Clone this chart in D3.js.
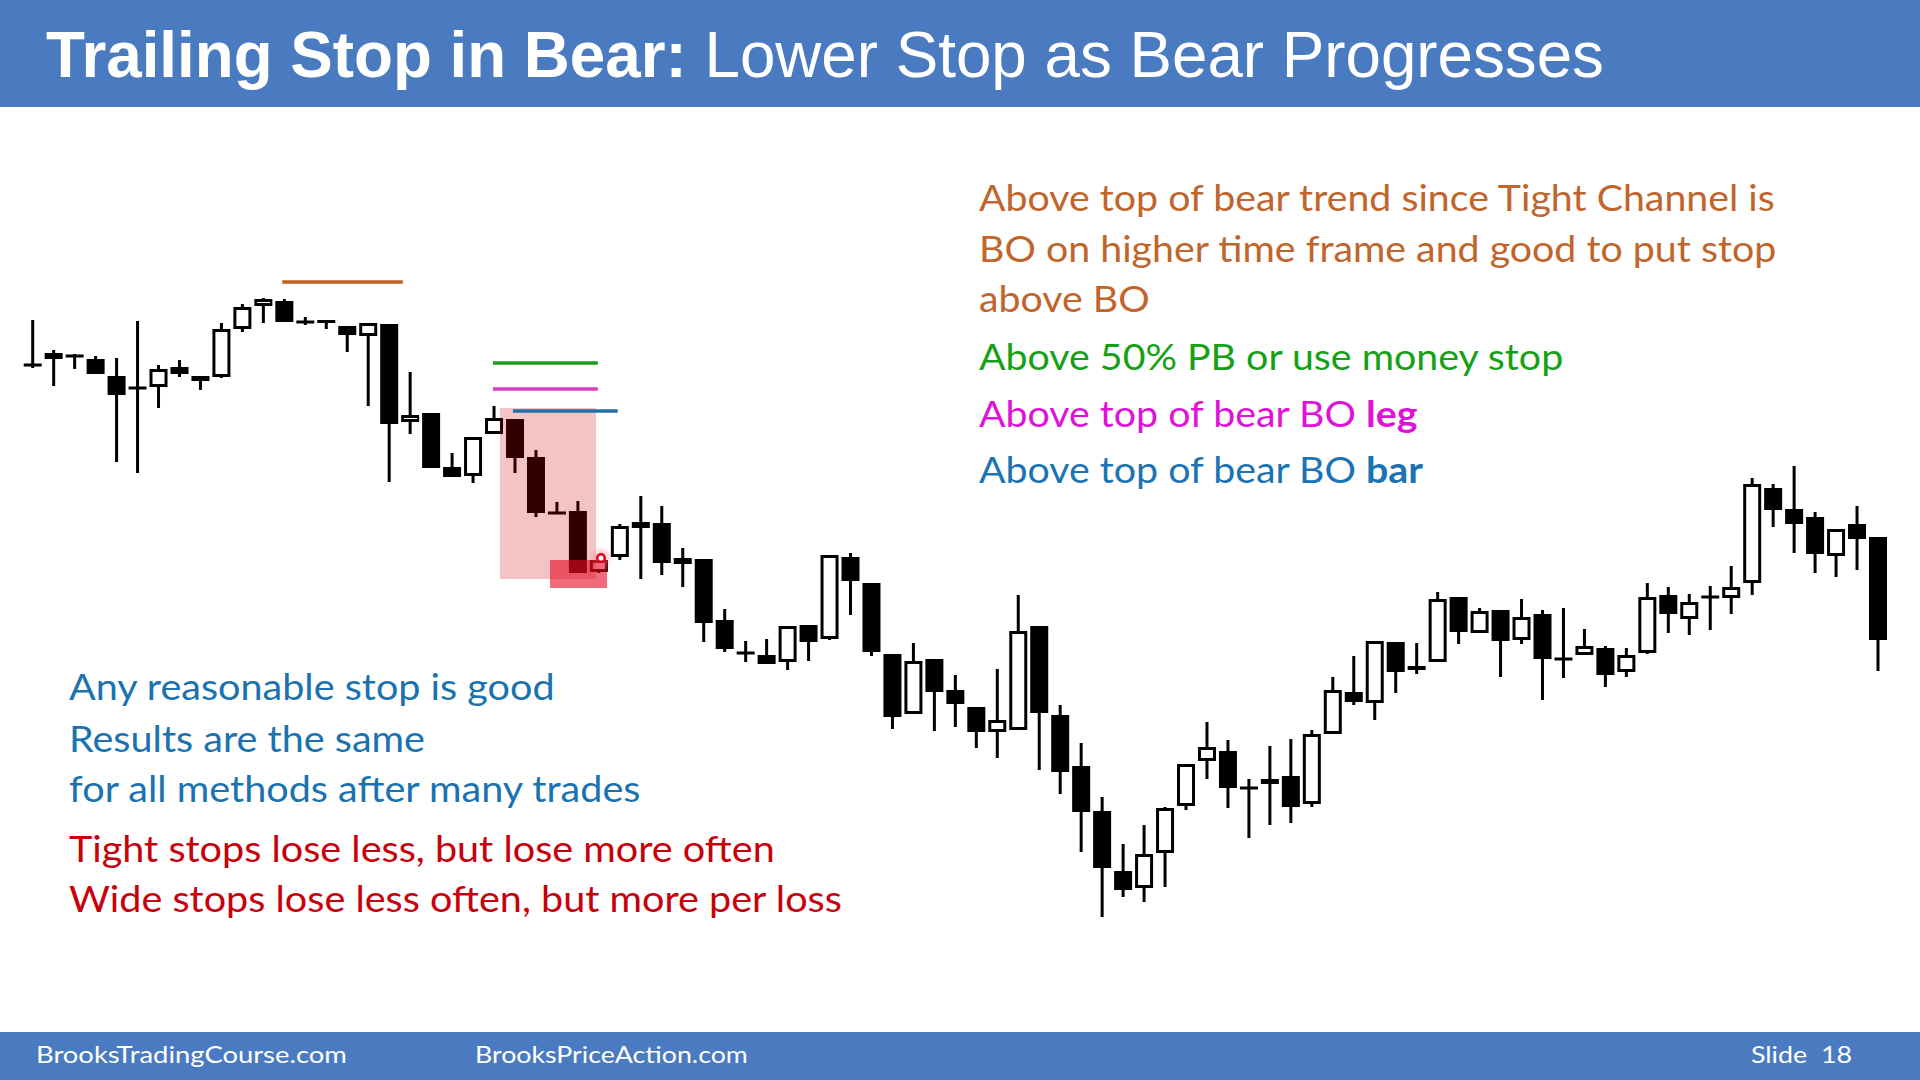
<!DOCTYPE html>
<html><head><meta charset="utf-8">
<script src="https://cdn.jsdelivr.net/npm/d3@7"></script>
<style>html,body{margin:0;padding:0;background:#fff;overflow:hidden} svg{display:block}</style>
</head><body>
<svg id="c" width="1920" height="1080"></svg>
<script>
// ---- data (price points) ----
const opens = [4063.5,4064.1,4064.4,4064.1,4062.4,4061.2,4061.3,4063.3,4062.4,4062.3,
4067.1,4069.4,4069.9,4067.8,4068.0,4067.4,4066.4,4067.6,4057.8,4058.7,
4053.3,4052.4,4056.6,4058.1,4054.3,4048.7,4048.9,4042.8,4044.3,4047.2,
4047.7,4043.6,4044.1,4038.0,4034.7,4034.5,4033.8,4037.5,4036.1,4044.3,
4041.7,4034.6,4028.6,4034.1,4031.0,4029.3,4026.8,4027.0,4037.4,4028.5,
4023.4,4018.9,4012.9,4011.2,4014.7,4019.4,4023.9,4024.9,4021.2,4021.6,
4022.4,4019.6,4026.6,4030.8,4029.7,4035.8,4033.0,4033.8,4040.3,4036.7,
4039.0,4036.0,4038.6,4034.1,4034.5,4035.2,4032.8,4034.7,4040.5,4038.1,
4040.3,4040.2,4041.7,4051.2,4049.1,4048.3,4044.4,4047.6,4046.3];
const highs = [4068.0,4065.0,4064.6,4064.4,4064.2,4067.9,4063.5,4064.0,4062.4,4067.7,
4069.6,4070.2,4070.1,4068.3,4068.0,4067.4,4067.7,4067.6,4062.8,4058.7,
4054.7,4056.3,4059.4,4058.1,4055.0,4049.8,4049.9,4044.0,4047.6,4050.4,
4049.4,4045.2,4044.1,4039.1,4035.9,4036.1,4037.4,4037.5,4044.5,4044.7,
4041.7,4034.6,4035.7,4034.1,4032.5,4029.3,4033.1,4040.5,4037.4,4029.5,
4025.7,4020.3,4015.6,4017.5,4019.3,4023.6,4027.8,4026.0,4022.1,4025.4,
4026.1,4027.0,4032.3,4034.4,4035.9,4035.8,4035.7,4040.8,4040.3,4039.2,
4039.0,4040.1,4039.0,4039.2,4037.1,4035.4,4035.2,4041.7,4041.3,4040.6,
4041.4,4043.4,4052.2,4051.6,4053.4,4048.8,4047.1,4049.4,4046.3];
const lows = [4063.2,4061.4,4063.1,4062.6,4053.8,4052.7,4059.2,4062.3,4061.0,4062.2,
4066.8,4067.7,4067.8,4067.5,4067.1,4064.8,4059.4,4051.8,4056.6,4053.2,
4052.3,4051.7,4056.6,4052.7,4048.3,4048.7,4042.7,4042.7,4044.0,4042.1,
4042.5,4041.3,4035.8,4034.8,4033.8,4033.6,4033.0,4033.9,4036.0,4038.5,
4034.4,4027.1,4028.6,4026.9,4027.3,4025.2,4024.2,4027.0,4023.0,4020.6,
4014.8,4008.3,4010.3,4009.8,4011.3,4019.0,4022.1,4019.2,4016.2,4017.5,
4017.7,4019.3,4026.6,4029.5,4028.0,4030.7,4032.6,4033.8,4035.6,4036.7,
4032.3,4035.6,4030.0,4032.2,4034.5,4031.3,4032.3,4034.6,4036.7,4036.5,
4037.0,4038.6,4040.5,4047.3,4044.7,4042.7,4042.3,4043.0,4032.9];
const closes = [4063.5,4064.7,4064.4,4062.6,4060.5,4061.2,4063.1,4062.6,4061.9,4067.1,
4069.3,4070.1,4067.8,4067.8,4067.7,4066.5,4067.7,4057.6,4058.5,4053.2,
4052.3,4056.3,4058.2,4054.2,4048.7,4048.7,4042.7,4044.0,4047.4,4047.8,
4043.7,4044.2,4037.7,4035.1,4034.7,4033.6,4037.4,4035.8,4044.5,4041.9,
4034.8,4028.3,4033.9,4030.8,4029.6,4026.8,4028.0,4036.9,4028.7,4022.8,
4018.8,4013.2,4011.0,4014.6,4019.2,4023.6,4025.3,4021.2,4021.2,4022.1,
4019.3,4026.6,4031.0,4029.8,4035.9,4032.8,4033.4,4040.1,4036.8,4038.9,
4035.9,4038.3,4034.1,4034.1,4035.4,4032.5,4034.5,4040.3,4038.6,4039.8,
4040.3,4041.3,4051.6,4049.0,4047.6,4044.6,4047.1,4046.1,4036.0];

// stop lines: [startBar, endBar, price]
const stopNames  = ["trend top", "50% PB", "BO leg", "BO bar"];
const stopStart  = [11.9, 21.95, 21.95, 22.9];
const stopEnd    = [17.65, 26.95, 26.95, 27.9];
const stopPrice  = [4071.8, 4063.7, 4061.1, 4058.9];
const stopColors = ["#c55f1f", "#1c9c1c", "#d63ec6", "#2270a8"];

// highlighted zones [x0bar, x1bar, pHigh, pLow]
const channelZone = [22.28, 26.86, 4059.2, 4042.1];
const entryZone   = [24.67, 27.39, 4044.0, 4041.2];
const markerPoint = [27.1, 4044.2];

const titleBold = "Trailing Stop in Bear:";
const titleRest = " Lower Stop as Bear Progresses";
const rightLines = [
  {t:"Above top of bear trend since Tight Channel is", c:"#c0652b"},
  {t:"BO on higher time frame and good to put stop", c:"#c0652b"},
  {t:"above BO", c:"#c0652b"},
  {t:"Above 50% PB or use money stop", c:"#16a016"},
  {t:"Above top of bear BO ", b:"leg", c:"#e012d8"},
  {t:"Above top of bear BO ", b:"bar", c:"#1b73b3"}
];
const rightBaselines = [211, 262, 312, 370, 427, 483];
const leftLines = [
  {t:"Any reasonable stop is good", c:"#1a72b0"},
  {t:"Results are the same", c:"#1a72b0"},
  {t:"for all methods after many trades", c:"#1a72b0"},
  {t:"Tight stops lose less, but lose more often", c:"#c8000c"},
  {t:"Wide stops lose less often, but more per loss", c:"#c8000c"}
];
const leftBaselines = [700, 752, 802, 862, 912];
const footerTexts = ["BrooksTradingCourse.com", "BrooksPriceAction.com", "Slide  18"];

// ---- drawing ----
const svg = d3.select("#c");
const BLUE = "#4a7bc1";

const x = d3.scaleLinear().domain([0, opens.length - 1]).range([32.7, 1878]);
const y = d3.scaleLinear().domain([4008, 4072]).range([920, 280]);

svg.append("rect").attr("x",0).attr("y",0).attr("width",1920).attr("height",1080).attr("fill","#fff");

// header / footer bars
svg.append("rect").attr("x",0).attr("y",0).attr("width",1920).attr("height",107).attr("fill",BLUE);
svg.append("rect").attr("x",0).attr("y",1032).attr("width",1920).attr("height",48).attr("fill",BLUE);

function fitWidth(sel, target) {
  const w = sel.node().getComputedTextLength();
  const x0 = +sel.attr("x");
  const s = target / w;
  sel.attr("transform", `translate(${x0},0) scale(${s},1) translate(${-x0},0)`);
  return s;
}
function applyScale(sel, s) {
  const x0 = +sel.attr("x");
  sel.attr("transform", `translate(${x0},0) scale(${s},1) translate(${-x0},0)`);
}

// title
const title = svg.append("text").attr("x",46).attr("y",77)
  .attr("font-family","'Liberation Sans', Arial, sans-serif").attr("font-size",65).attr("fill","#fff");
title.append("tspan").attr("font-weight","bold").text(titleBold);
title.append("tspan").text(titleRest);
fitWidth(title, 1558);

// candles
const data = opens.map((o,i)=>({i, o, h:highs[i], l:lows[i], c:closes[i]}));
const g = svg.append("g");
const BW = 18;
data.forEach(d => {
  const cx = x(d.i);
  g.append("rect").attr("x", cx-1.5).attr("width",3)
    .attr("y", y(d.h)).attr("height", Math.max(1, y(d.l)-y(d.h))).attr("fill","#000");
  const top = y(Math.max(d.o,d.c)), bot = y(Math.min(d.o,d.c));
  const hgt = bot - top;
  if (hgt < 3) {
    g.append("rect").attr("x", cx-BW/2).attr("width", BW).attr("y", (top+bot)/2-1.5).attr("height",3).attr("fill","#000");
  } else if (d.c < d.o) {
    g.append("rect").attr("x", cx-BW/2).attr("width", BW).attr("y", top).attr("height", hgt).attr("fill","#000");
  } else {
    g.append("rect").attr("x", cx-BW/2+1.5).attr("width", BW-3).attr("y", top+1.5).attr("height", Math.max(0.5,hgt-3))
      .attr("fill","#fff").attr("stroke","#000").attr("stroke-width",3);
  }
});

// overlays
svg.append("rect")
  .attr("x", x(channelZone[0])).attr("width", x(channelZone[1])-x(channelZone[0]))
  .attr("y", y(channelZone[2])).attr("height", y(channelZone[3])-y(channelZone[2]))
  .attr("fill","rgb(200,0,10)").attr("fill-opacity",0.23);
svg.append("rect")
  .attr("x", x(entryZone[0])).attr("width", x(entryZone[1])-x(entryZone[0]))
  .attr("y", y(entryZone[2])).attr("height", y(entryZone[3])-y(entryZone[2]))
  .attr("fill","rgb(230,10,35)").attr("fill-opacity",0.6);

// stop lines
stopPrice.forEach((p,k)=>{
  svg.append("line").attr("x1", x(stopStart[k])).attr("x2", x(stopEnd[k]))
    .attr("y1", y(p)).attr("y2", y(p)).attr("stroke", stopColors[k]).attr("stroke-width",3.5);
});

// marker
const defs = svg.append("defs");
const rg = defs.append("radialGradient").attr("id","glow");
rg.append("stop").attr("offset","0%").attr("stop-color","#ff6070").attr("stop-opacity",0.55);
rg.append("stop").attr("offset","100%").attr("stop-color","#ff6070").attr("stop-opacity",0);
svg.append("circle").attr("cx", x(markerPoint[0])).attr("cy", y(markerPoint[1])).attr("r",12).attr("fill","url(#glow)");
svg.append("circle").attr("cx", x(markerPoint[0])).attr("cy", y(markerPoint[1])).attr("r",3.8)
  .attr("fill","#fff").attr("stroke","#e0001a").attr("stroke-width",2.5);

// text blocks
const FONT = "Lato, 'Open Sans', sans-serif";
function block(lines, baselines, x0, targetIdx, targetW) {
  const sels = lines.map((ln,k)=>{
    const t = svg.append("text").attr("x",x0).attr("y",baselines[k])
      .attr("font-family",FONT).attr("font-size",36).attr("fill",ln.c);
    t.append("tspan").text(ln.t);
    if (ln.b) t.append("tspan").attr("font-weight","bold").text(ln.b);
    return t;
  });
  const s = targetW / sels[targetIdx].node().getComputedTextLength();
  sels.forEach(t=>applyScale(t,s));
}
block(rightLines, rightBaselines, 979, 0, 796);
block(leftLines, leftBaselines, 69, 4, 773);

// footer
const fx = [36, 475, 1751], fw = [311, 273, 101];
footerTexts.forEach((t,k)=>{
  const s = svg.append("text").attr("x",fx[k]).attr("y",1063)
    .attr("font-family",FONT).attr("font-size",24).attr("fill","#fff").attr("xml:space","preserve").style("white-space","pre").text(t);
  fitWidth(s, fw[k]);
});
</script>
</body></html>
